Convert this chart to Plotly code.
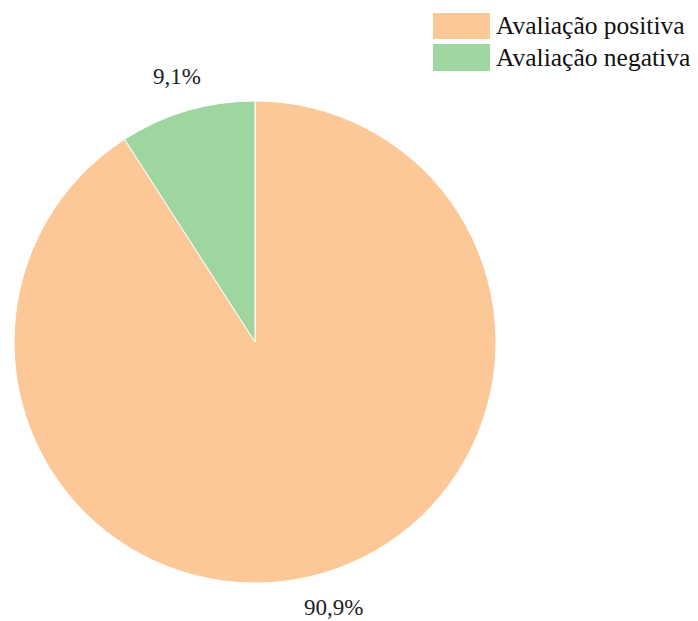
import math
import plotly.graph_objects as go

categories = ["Avaliação positiva", "Avaliação negativa"]
values = [90.9, 9.1]
value_labels = ["90,9%", "9,1%"]
colors = ["#fdc897", "#9fd69f"]

W, H = 698, 621
FONT = "'Times New Roman', 'Liberation Serif', 'DejaVu Serif', serif"

# pie geometry (pixels)
cx, cy, r = 255, 342, 241
dom_x = [(cx - r) / W, (cx + r) / W]
dom_y = [1 - (cy + r) / H, 1 - (cy - r) / H]

fig = go.Figure(go.Pie(
    labels=categories,
    values=values,
    textinfo="none",
    sort=False,
    direction="clockwise",
    rotation=0,
    marker=dict(colors=colors, line=dict(color="white", width=1)),
    domain=dict(x=dom_x, y=dom_y),
    showlegend=False,
    hoverinfo="label+percent",
))

shapes = []
annotations = []

# outside value labels placed along each slice's mid-angle (clockwise from top)
total = sum(values)
start = 0.0
for v, lab in zip(values, value_labels):
    mid = (start + v / 2) / total * 2 * math.pi
    start += v
    rr = r * 1.15
    px = cx + rr * math.sin(mid)
    py = cy - rr * math.cos(mid)
    annotations.append(dict(xref="paper", yref="paper", x=px / W, y=1 - py / H,
                            xanchor="center", yanchor="middle", text=lab,
                            showarrow=False,
                            font=dict(family=FONT, size=23, color="#222222")))

# custom legend with large swatches
box_x0, box_x1 = 433, 490
rows = [(13, 39), (44, 71)]
for (y0, y1), cat, col in zip(rows, categories, colors):
    shapes.append(dict(type="rect", xref="paper", yref="paper",
                       x0=box_x0 / W, x1=box_x1 / W,
                       y0=1 - y1 / H, y1=1 - y0 / H,
                       fillcolor=col, line=dict(width=0)))
    annotations.append(dict(xref="paper", yref="paper",
                            x=494 / W, y=1 - ((y0 + y1) / 2) / H,
                            xanchor="left", yanchor="middle",
                            text=cat, showarrow=False,
                            font=dict(family=FONT, size=25.5, color="#111111")))

fig.update_layout(
    width=W, height=H,
    margin=dict(l=0, r=0, t=0, b=0),
    paper_bgcolor="white",
    plot_bgcolor="white",
    shapes=shapes,
    annotations=annotations,
    font=dict(family=FONT),
)

fig.write_html("out.html")
